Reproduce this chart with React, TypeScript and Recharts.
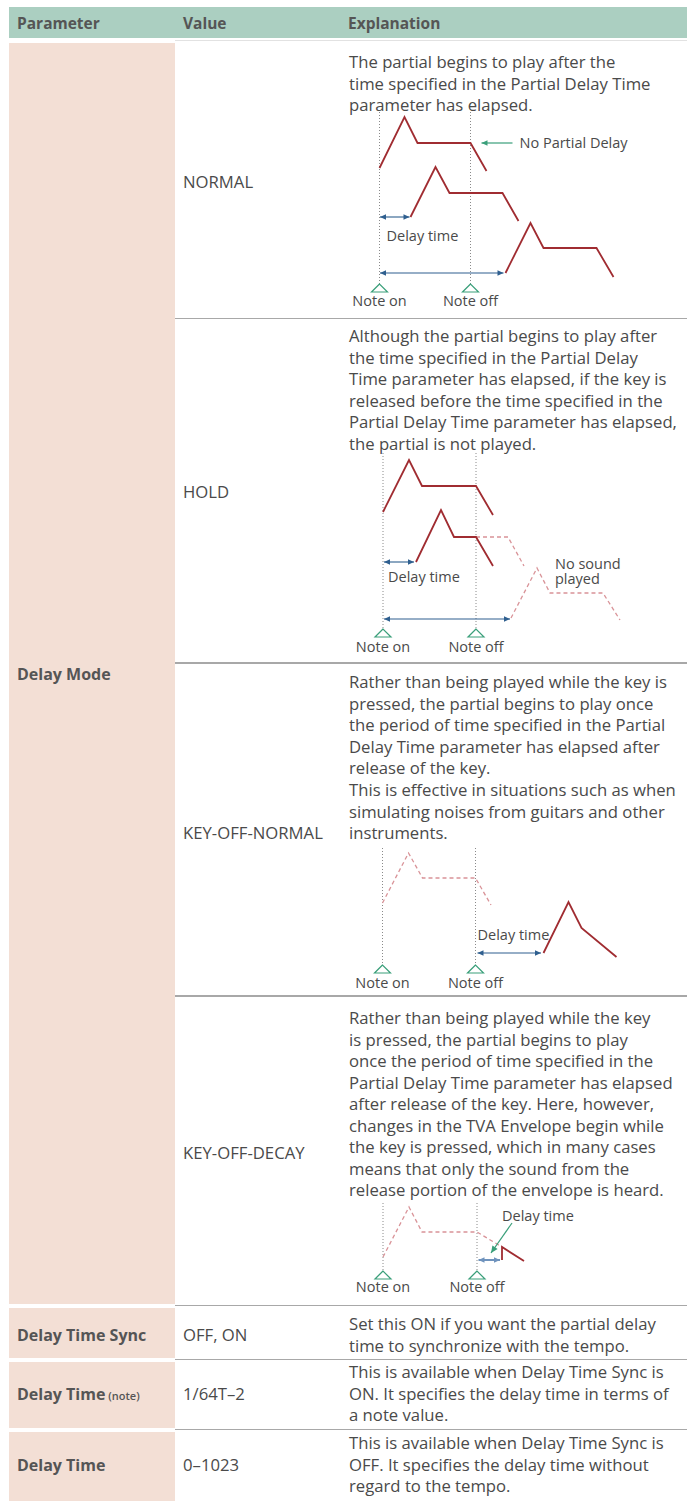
import React from 'react';
import { ComposedChart, Line, Scatter, XAxis, YAxis } from 'recharts';

const FONT = '"Open Sans", "Noto Sans", sans-serif';
const TEXT = '#4a4a4a';
const HEAD_TEXT = '#555555';
const RED = '#a02c31';
const RED_DASH = '#d99398';
const BLUE = '#2f5f8f';
const BLUE_LIGHT = '#6f93bd';
const GREEN = '#3a9f7a';
const GUIDE = '#8a8a8a';
const RULE = '#a8a8a8';
const HEADER_BG = '#abcfc1';
const PEACH = '#f3dfd5';
const FS = 16.7;
const FS_PARAM = 16;
const FS_HEAD = 15.5;
const FS_DIAG = 14.5;
const LH = 21.5;

// ---------- table content ----------
const headers = ['Parameter', 'Value', 'Explanation'];
const headerX = [17, 183, 348];

const paramNames = ['Delay Mode', 'Delay Time Sync', 'Delay Time', 'Delay Time'];
const paramNotes = ['', '', '(note)', ''];
const paramY = [674, 1335, 1394, 1465];
const paramCells: [number, number][] = [[43, 1304], [1308, 1358], [1362, 1428], [1432, 1501]];

const valueLabels = ['NORMAL', 'HOLD', 'KEY-OFF-NORMAL', 'KEY-OFF-DECAY', 'OFF, ON', '1/64T\u20132', '0\u20131023'];
const valueY = [182, 492, 833, 1153, 1335, 1394, 1465];

const ruleY = [318.5, 663, 996, 1305.5, 1359.5, 1429.5];

const explNormal = [
  'The partial begins to play after the',
  'time specified in the Partial Delay Time',
  'parameter has elapsed.',
];
const explHold = [
  'Although the partial begins to play after',
  'the time specified in the Partial Delay',
  'Time parameter has elapsed, if the key is',
  'released before the time specified in the',
  'Partial Delay Time parameter has elapsed,',
  'the partial is not played.',
];
const explKeyOffNormalA = [
  'Rather than being played while the key is',
  'pressed, the partial begins to play once',
  'the period of time specified in the Partial',
  'Delay Time parameter has elapsed after',
  'release of the key.',
];
const explKeyOffNormalB = [
  'This is effective in situations such as when',
  'simulating noises from guitars and other',
  'instruments.',
];
const explKeyOffDecay = [
  'Rather than being played while the key',
  'is pressed, the partial begins to play',
  'once the period of time specified in the',
  'Partial Delay Time parameter has elapsed',
  'after release of the key. Here, however,',
  'changes in the TVA Envelope begin while',
  'the key is pressed, which in many cases',
  'means that only the sound from the',
  'release portion of the envelope is heard.',
];
const explSync = ['Set this ON if you want the partial delay', 'time to synchronize with the tempo.'];
const explNote = ['This is available when Delay Time Sync is', 'ON. It specifies the delay time in terms of', 'a note value.'];
const explTime = ['This is available when Delay Time Sync is', 'OFF. It specifies the delay time without', 'regard to the tempo.'];

const explBlocks: { lines: string[]; y: number }[] = [
  { lines: explNormal, y: 62 },
  { lines: explHold, y: 336 },
  { lines: explKeyOffNormalA, y: 682 },
  { lines: explKeyOffNormalB, y: 790 },
  { lines: explKeyOffDecay, y: 1018 },
  { lines: explSync, y: 1324 },
  { lines: explNote, y: 1372 },
  { lines: explTime, y: 1443 },
];

// ---------- diagram data: [time, level] ----------
type P = [number, number];

// NORMAL
const normalEnv1: P[] = [[0, 122], [25, 173], [38, 147], [91, 147], [107, 119]];
const normalEnv2: P[] = [[31, 73], [56, 123], [70, 97], [123, 97], [139, 69]];
const normalEnv3: P[] = [[126, 17], [151, 67], [164, 42], [217, 42], [234, 13]];
const normalNoteTimes = [0, 91];
const normalGuideRange: P = [178, 6];
const normalDelayArrow: P[] = [[0.5, 73], [30, 73]];
const normalLongArrow: P[] = [[0.5, 17], [124, 17]];
const normalPointer: P[] = [[133, 147], [102, 147]];

// HOLD
const holdEnv1: P[] = [[0, 125], [26, 177], [39, 151], [93, 151], [110, 122]];
const holdEnv2: P[] = [[33, 75], [58, 127], [71, 100], [93, 100], [110, 71]];
const holdEnv2Rest: P[] = [[93, 100], [125, 100], [141, 71]];
const holdEnv3: P[] = [[128, 19], [154, 69], [167, 44], [220, 44], [237, 17]];
const holdNoteTimes = [0, 93];
const holdGuideRange: P = [184, 9];
const holdDelayArrow: P[] = [[1, 75], [31, 75]];
const holdLongArrow: P[] = [[1, 18], [127, 18]];

// KEY-OFF-NORMAL
const konEnvHeld: P[] = [[0, 70], [26, 120], [40, 95], [93, 95], [108.5, 68]];
const konEnvPlayed: P[] = [[161, 20], [186, 71], [199, 45], [234, 16]];
const konNoteTimes = [0, 93];
const konGuideRange: P = [125, 10];
const konDelayArrow: P[] = [[95, 20], [158.5, 20]];

// KEY-OFF-DECAY
const kodEnvHeld: P[] = [[0, 21], [26, 71], [39, 46], [94, 46], [119, 31]];
const kodEnvPlayed: P[] = [[119, 18], [119, 31], [141, 17]];
const kodNoteTimes = [0, 94];
const kodGuideRange: P = [75, 8];
const kodDelayArrow: P[] = [[95.5, 18], [117, 18]];
const kodPointer: P[] = [[129, 55], [108, 25]];

const toPts = (a: P[]) => a.map(([t, v]) => ({ t, v }));

type Arrow = { pts: P[]; heads: 'both' | 'end'; color: string; width: number; head: number };
type TextMark = { t: number; v: number; text: string[]; anchor: 'start' | 'middle' };

type DiagramSpec = {
  box: { left: number; top: number; width: number; height: number };
  origin: { x: number; y: number };
  solids: P[][];
  dashed: P[][];
  noteTimes: number[];
  guideRange: P;
  triLevel: number;
  labelLevel: number;
  arrows: Arrow[];
  texts: TextMark[];
};

function arrowDot(arrow: Arrow) {
  return (props: any) => {
    const { cx, cy, index } = props;
    const key = `ah-${index}`;
    const show = arrow.heads === 'both' || index === arrow.pts.length - 1;
    if (!show || cx == null || cy == null) return <g key={key} />;
    const me = arrow.pts[index];
    const other = arrow.pts[index === 0 ? 1 : index - 1];
    let dx = me[0] - other[0];
    let dy = -(me[1] - other[1]);
    const len = Math.hypot(dx, dy) || 1;
    dx /= len;
    dy /= len;
    const L = arrow.head;
    const W = arrow.head * 0.45;
    const bx = cx - dx * L;
    const by = cy - dy * L;
    const nx = -dy;
    const ny = dx;
    const pts = `${cx},${cy} ${bx + nx * W},${by + ny * W} ${bx - nx * W},${by - ny * W}`;
    return <polygon key={key} points={pts} fill={arrow.color} stroke="none" />;
  };
}

function Diagram({ spec }: { spec: DiagramSpec }) {
  const { box, origin } = spec;
  const xDomain = [box.left - origin.x, box.left + box.width - origin.x];
  const yDomain = [origin.y - (box.top + box.height), origin.y - box.top];
  const tris = spec.noteTimes.map((t) => ({ t, v: spec.triLevel }));
  const labels: TextMark[] = [
    { t: spec.noteTimes[0], v: spec.labelLevel, text: ['Note on'], anchor: 'middle' },
    { t: spec.noteTimes[1], v: spec.labelLevel, text: ['Note off'], anchor: 'middle' },
    ...spec.texts,
  ];
  return (
    <div style={{ position: 'absolute', left: box.left, top: box.top, width: box.width, height: box.height }}>
      <ComposedChart width={box.width} height={box.height} margin={{ top: 0, right: 0, bottom: 0, left: 0 }}>
        <XAxis type="number" dataKey="t" domain={xDomain} hide allowDataOverflow />
        <YAxis type="number" dataKey="v" domain={yDomain} hide allowDataOverflow />
        {spec.noteTimes.map((t, i) => (
          <Line
            key={`g${i}`}
            data={toPts([[t, spec.guideRange[0]], [t, spec.guideRange[1]]])}
            dataKey="v"
            type="linear"
            stroke={GUIDE}
            strokeWidth={1}
            strokeDasharray="1 2"
            dot={false}
            isAnimationActive={false}
          />
        ))}
        {spec.dashed.map((d, i) => (
          <Line
            key={`d${i}`}
            data={toPts(d)}
            dataKey="v"
            type="linear"
            stroke={RED_DASH}
            strokeWidth={1.3}
            strokeDasharray="4 3"
            dot={false}
            isAnimationActive={false}
          />
        ))}
        {spec.solids.map((d, i) => (
          <Line
            key={`s${i}`}
            data={toPts(d)}
            dataKey="v"
            type="linear"
            stroke={RED}
            strokeWidth={1.8}
            dot={false}
            isAnimationActive={false}
          />
        ))}
        {spec.arrows.map((a, i) => (
          <Line
            key={`a${i}`}
            data={toPts(a.pts)}
            dataKey="v"
            type="linear"
            stroke={a.color}
            strokeWidth={a.width}
            dot={arrowDot(a)}
            activeDot={false}
            isAnimationActive={false}
          />
        ))}
        <Scatter
          data={tris}
          dataKey="v"
          isAnimationActive={false}
          shape={(p: any) => (
            <polygon
              points={`${p.cx},${p.cy} ${p.cx - 8},${p.cy + 8} ${p.cx + 8},${p.cy + 8}`}
              fill="#ffffff"
              stroke={GREEN}
              strokeWidth={1.2}
            />
          )}
        />
        <Scatter
          data={labels}
          dataKey="v"
          isAnimationActive={false}
          shape={(p: any) => (
            <text
              x={p.cx}
              y={p.cy}
              textAnchor={p.payload.anchor}
              fontFamily={FONT}
              fontSize={FS_DIAG}
              fill={TEXT}
            >
              {p.payload.text.map((s: string, i: number) => (
                <tspan key={i} x={p.cx} dy={i === 0 ? '0.35em' : 15}>
                  {s}
                </tspan>
              ))}
            </text>
          )}
        />
      </ComposedChart>
    </div>
  );
}

const diagrams: DiagramSpec[] = [
  {
    box: { left: 340, top: 105, width: 340, height: 212 },
    origin: { x: 379.5, y: 290 },
    solids: [normalEnv1, normalEnv2, normalEnv3],
    dashed: [],
    noteTimes: normalNoteTimes,
    guideRange: normalGuideRange,
    triLevel: 6,
    labelLevel: -11,
    arrows: [
      { pts: normalDelayArrow, heads: 'both', color: BLUE, width: 1.1, head: 6 },
      { pts: normalLongArrow, heads: 'both', color: BLUE, width: 1.1, head: 6 },
      { pts: normalPointer, heads: 'end', color: GREEN, width: 1.2, head: 6 },
    ],
    texts: [
      { t: 140, v: 147, text: ['No Partial Delay'], anchor: 'start' },
      { t: 7, v: 54, text: ['Delay time'], anchor: 'start' },
    ],
  },
  {
    box: { left: 340, top: 445, width: 340, height: 215 },
    origin: { x: 383, y: 637 },
    solids: [holdEnv1, holdEnv2],
    dashed: [holdEnv2Rest, holdEnv3],
    noteTimes: holdNoteTimes,
    guideRange: holdGuideRange,
    triLevel: 8,
    labelLevel: -10,
    arrows: [
      { pts: holdDelayArrow, heads: 'both', color: BLUE, width: 1.1, head: 6 },
      { pts: holdLongArrow, heads: 'both', color: BLUE, width: 1.1, head: 6 },
    ],
    texts: [
      { t: 5, v: 60, text: ['Delay time'], anchor: 'start' },
      { t: 172, v: 73, text: ['No sound', 'played'], anchor: 'start' },
    ],
  },
  {
    box: { left: 340, top: 842, width: 340, height: 152 },
    origin: { x: 382.5, y: 973 },
    solids: [konEnvPlayed],
    dashed: [konEnvHeld],
    noteTimes: konNoteTimes,
    guideRange: konGuideRange,
    triLevel: 8,
    labelLevel: -10,
    arrows: [{ pts: konDelayArrow, heads: 'both', color: BLUE, width: 1.1, head: 6 }],
    texts: [{ t: 95, v: 38, text: ['Delay time'], anchor: 'start' }],
  },
  {
    box: { left: 340, top: 1197, width: 340, height: 106 },
    origin: { x: 383, y: 1278 },
    solids: [kodEnvPlayed],
    dashed: [kodEnvHeld],
    noteTimes: kodNoteTimes,
    guideRange: kodGuideRange,
    triLevel: 7,
    labelLevel: -9,
    arrows: [
      { pts: kodDelayArrow, heads: 'both', color: BLUE_LIGHT, width: 2, head: 6 },
      { pts: kodPointer, heads: 'end', color: GREEN, width: 1.2, head: 7 },
    ],
    texts: [{ t: 119, v: 62, text: ['Delay time'], anchor: 'start' }],
  },
];

function TextLine({ x, y, children, bold, size }: { x: number; y: number; children: React.ReactNode; bold?: boolean; size?: number }) {
  return (
    <div
      style={{
        position: 'absolute',
        left: x,
        top: y - 11,
        height: 22,
        lineHeight: '22px',
        whiteSpace: 'nowrap',
        fontSize: size ?? FS,
        fontWeight: bold ? 700 : 400,
        color: bold ? HEAD_TEXT : TEXT,
      }}
    >
      {children}
    </div>
  );
}

export default function App() {
  return (
    <div
      style={{
        position: 'absolute',
        left: 0,
        top: 0,
        width: 687,
        height: 1501,
        overflow: 'hidden',
        background: '#ffffff',
        fontFamily: FONT,
      }}
    >
      <div style={{ position: 'absolute', left: 9, top: 7, width: 678, height: 31, background: HEADER_BG }} />
      {headers.map((h, i) => (
        <TextLine key={h} x={headerX[i]} y={22.5} bold size={FS_HEAD}>
          {h}
        </TextLine>
      ))}
      <div style={{ position: 'absolute', left: 175, top: 40, width: 512, height: 1, background: '#e2e2e2' }} />
      {paramCells.map(([a, b], i) => (
        <div key={i} style={{ position: 'absolute', left: 9, top: a, width: 166, height: b - a, background: PEACH }} />
      ))}
      {ruleY.map((y, i) => (
        <div key={i} style={{ position: 'absolute', left: 175, top: y - 0.75, width: 512, height: 1.5, background: RULE }} />
      ))}
      {paramNames.map((n, i) => (
        <TextLine key={i} x={17} y={paramY[i]} bold size={FS_PARAM}>
          {n}
          {paramNotes[i] ? <span style={{ fontSize: 11, fontWeight: 600 }}> {paramNotes[i]}</span> : null}
        </TextLine>
      ))}
      {valueLabels.map((v, i) => (
        <TextLine key={i} x={183} y={valueY[i]}>
          {v}
        </TextLine>
      ))}
      {explBlocks.map((b, bi) =>
        b.lines.map((l, li) => (
          <TextLine key={`${bi}-${li}`} x={349} y={b.y + li * LH}>
            {l}
          </TextLine>
        ))
      )}
      {diagrams.map((d, i) => (
        <Diagram key={i} spec={d} />
      ))}
    </div>
  );
}
